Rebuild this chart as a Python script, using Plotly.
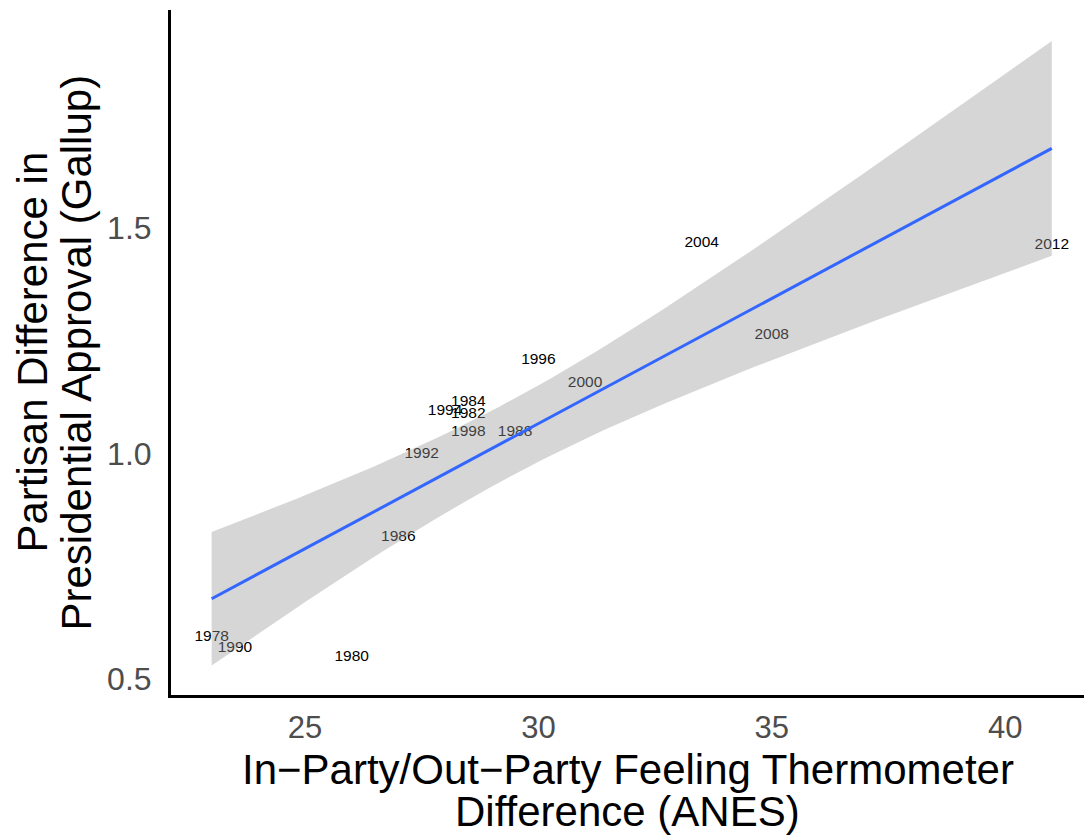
import numpy as np
import plotly.graph_objects as go

years = ["1978", "1990", "1980", "1986", "1992", "1994", "1984", "1982",
         "1998", "1988", "1996", "2000", "2004", "2008", "2012"]
thermo_diff = [23.0, 23.5, 26.0, 27.0, 27.5, 28.0, 28.5, 28.5,
               28.5, 29.5, 30.0, 31.0, 33.5, 35.0, 41.0]
approval_diff = [0.592, 0.568, 0.549, 0.815, 0.998, 1.094, 1.115, 1.087,
                 1.048, 1.048, 1.206, 1.157, 1.466, 1.263, 1.461]

x_ticks = [25, 30, 35, 40]
y_ticks = [0.5, 1.0, 1.5]
x_title = ["In\u2212Party/Out\u2212Party Feeling Thermometer", "Difference (ANES)"]
y_title = ["Partisan Difference in", "Presidential Approval (Gallup)"]

# linear fit with 95% confidence band (as geom_smooth(method="lm"))
x = np.array(thermo_diff)
y = np.array(approval_diff)
n = len(x)
slope, intercept = np.polyfit(x, y, 1)
resid = y - (slope * x + intercept)
s = np.sqrt(np.sum(resid ** 2) / (n - 2))
t_crit = 2.160369  # t(0.975, df=13)
xs = np.linspace(x.min(), x.max(), 80)
fit = slope * xs + intercept
se = s * np.sqrt(1.0 / n + (xs - x.mean()) ** 2 / np.sum((x - x.mean()) ** 2))
upper = fit + t_crit * se
lower = fit - t_crit * se

FONT = "Liberation Sans, Arial, Helvetica, sans-serif"

fig = go.Figure()
fig.add_trace(go.Scatter(
    x=thermo_diff, y=approval_diff, text=years, mode="text",
    textposition="middle center",
    textfont=dict(family=FONT, size=15.5, color="black"),
    hoverinfo="skip", showlegend=False))
fig.add_trace(go.Scatter(
    x=np.concatenate([xs, xs[::-1]]), y=np.concatenate([upper, lower[::-1]]),
    fill="toself", fillcolor="rgba(153,153,153,0.4)", line=dict(width=0),
    mode="lines", hoverinfo="skip", showlegend=False))
fig.add_trace(go.Scatter(
    x=xs, y=fit, mode="lines", line=dict(color="#3366FF", width=3),
    hoverinfo="skip", showlegend=False))

fig.update_layout(
    width=1084, height=839,
    margin=dict(l=171, r=0, t=10, b=144),
    paper_bgcolor="white", plot_bgcolor="white",
    font=dict(family=FONT),
    xaxis=dict(range=[22.129, 41.69], tickvals=x_ticks, ticks="",
               showgrid=False, zeroline=False, showline=True,
               linecolor="black", linewidth=3, ticklabelstandoff=3,
               tickfont=dict(family=FONT, size=31, color="#4d4d4d")),
    yaxis=dict(range=[0.4645, 1.9834], tickvals=y_ticks, ticks="",
               tickformat=".1f", ticklabelstandoff=10,
               showgrid=False, zeroline=False, showline=True,
               linecolor="black", linewidth=3,
               tickfont=dict(family=FONT, size=32, color="#4d4d4d")),
)

annos = []
for i, line in enumerate(x_title):
    annos.append(dict(text=line, xref="paper", yref="paper", x=0.5, y=0,
                      xanchor="center", yanchor="middle", showarrow=False,
                      yshift=-(74 + 42 * i),
                      font=dict(family=FONT, size=42, color="black")))
for i, line in enumerate(y_title):
    annos.append(dict(text=line, xref="paper", yref="paper", x=0, y=0.5,
                      xanchor="center", yanchor="middle", showarrow=False,
                      textangle=-90, xshift=-(139 - 44 * i),
                      font=dict(family=FONT, size=42, color="black")))
fig.update_layout(annotations=annos)

fig.write_html("out.html")
